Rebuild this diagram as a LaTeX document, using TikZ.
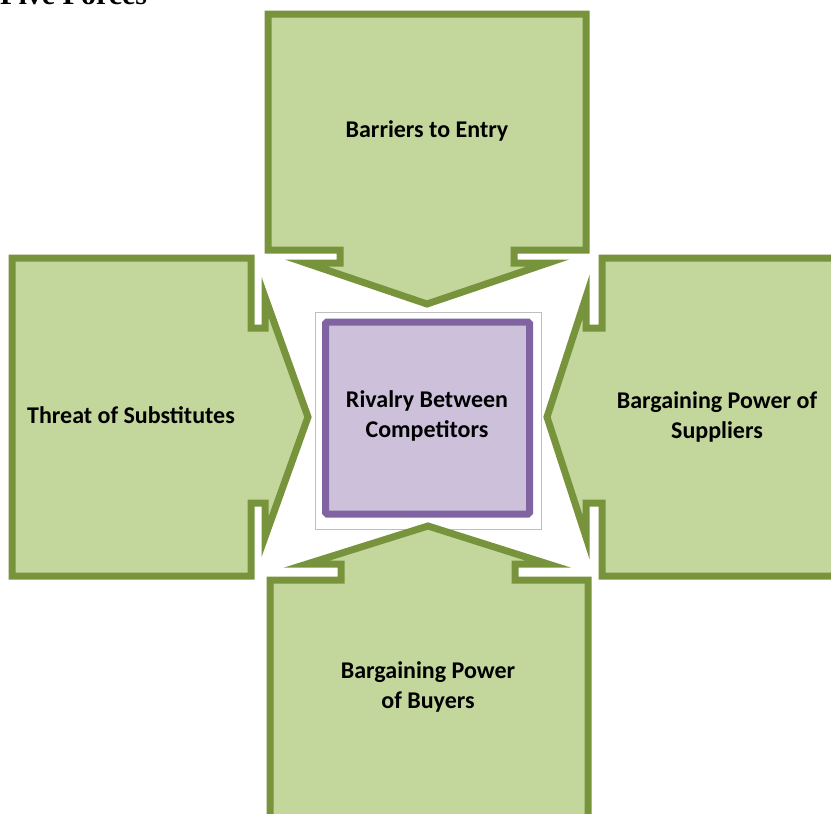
\documentclass[tikz,border=0pt]{standalone}
\usepackage{fontspec}
\newfontfamily\boxfont{Carlito}
\newfontfamily\titlefont{Liberation Serif}
\definecolor{fgreen}{HTML}{C3D69B}
\definecolor{dgreen}{HTML}{77933C}
\definecolor{fpurple}{HTML}{CCC0DA}
\definecolor{dpurple}{HTML}{8064A2}
\begin{document}
\begin{tikzpicture}[x=1pt,y=-1pt,
  force/.style={fill=fgreen, draw=dgreen, line width=7pt, line join=miter},
  forcetext/.style={align=center, inner sep=0pt, font=\boxfont\bfseries\fontsize{24}{30}\selectfont},
  core/.style={fill=fpurple, draw=dpurple, line width=7pt, rounded corners=1.5pt}]
\useasboundingbox (0,0) rectangle (831,814);
% title (cut at the top)
\node[anchor=base west, inner sep=0pt, font=\titlefont\bfseries\fontsize{30}{36}\selectfont] (title) at (0,4) {Five Forces};
% centre box
\draw[draw=black!25, line width=1pt, fill=white] (315,312) rectangle (541,529);
\draw[core] (325.5,322) rectangle (529.5,514);
\node[forcetext] (rivalry) at (427,416) {Rivalry Between\\Competitors};
% top arrow
\draw[force] (268,14) -- (586,14) -- (586,250) -- (514,250) -- (514,263) -- (548,263)
  -- (427,304) -- (306,263) -- (340,263) -- (340,250) -- (268,250) -- cycle;
\node[forcetext] (entry) at (427,131) {Barriers to Entry};
% left arrow
\draw[force] (12,258) -- (251,258) -- (251,328) -- (265,328) -- (265,297) -- (308,417)
  -- (265,537) -- (265,503) -- (251,503) -- (251,576) -- (12,576) -- cycle;
\node[forcetext] (subst) at (131,415) {Threat of Substitutes};
% right arrow
\draw[force] (845,258) -- (602,258) -- (602,328) -- (586,328) -- (586,297) -- (547,417)
  -- (586,537) -- (586,503) -- (602,503) -- (602,576) -- (845,576) -- cycle;
\node[forcetext] (suppliers) at (717,417) {Bargaining Power of\\Suppliers};
% bottom arrow
\draw[force] (270,830) -- (270,580) -- (341,580) -- (341,564) -- (307,564) -- (428,526)
  -- (548,564) -- (515,564) -- (515,580) -- (588,580) -- (588,830);
\node[forcetext] (buyers) at (428,687) {Bargaining Power\\of Buyers};
\end{tikzpicture}
\end{document}
